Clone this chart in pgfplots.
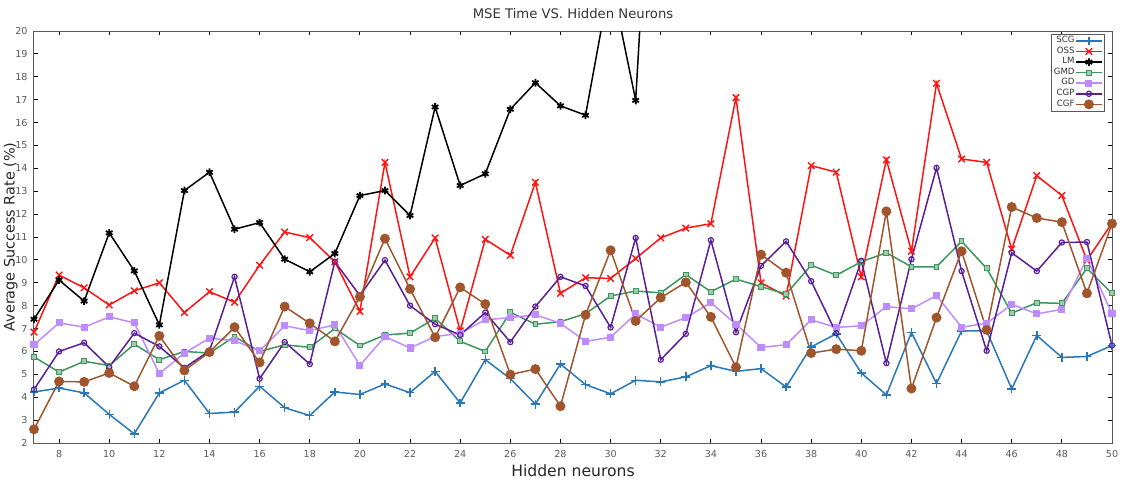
\documentclass[border=0pt]{standalone}
\usepackage{pgfplots}
\pgfplotsset{compat=1.18}
\usepackage{pgfplotstable}
\usepackage{fontspec}
\setmainfont{DejaVu Sans}
\definecolor{cscg}{RGB}{40,120,185}
\definecolor{coss}{RGB}{255,20,20}
\definecolor{clm}{RGB}{0,0,0}
\definecolor{cgmd}{RGB}{60,150,90}
\definecolor{cgd}{RGB}{190,140,255}
\definecolor{ccgp}{RGB}{90,30,150}
\definecolor{ccgf}{RGB}{160,85,45}
\definecolor{axgray}{RGB}{90,90,90}

\pgfplotstableread{
x y
7 4.23
8 4.4
9 4.19
10 3.25
11 2.4
12 4.19
13 4.74
14 3.29
15 3.35
16 4.48
17 3.54
18 3.2
19 4.23
20 4.12
21 4.58
22 4.2
23 5.13
24 3.75
25 5.64
26 4.81
27 3.7
28 5.45
29 4.55
30 4.15
31 4.74
32 4.67
33 4.89
34 5.38
35 5.13
36 5.25
37 4.45
38 6.2
39 6.77
40 5.06
41 4.1
42 6.83
43 4.6
44 6.9
45 6.9
46 4.36
47 6.7
48 5.74
49 5.78
50 6.26
}\scg

\pgfplotstableread{
x y
7 6.84
8 9.34
9 8.78
10 8.03
11 8.65
12 9.0
13 7.7
14 8.61
15 8.15
16 9.77
17 11.22
18 10.97
19 9.92
20 7.75
21 14.26
22 9.26
23 10.96
24 6.9
25 10.9
26 10.2
27 13.39
28 8.54
29 9.22
30 9.19
31 10.06
32 10.96
33 11.39
34 11.58
35 17.09
36 9.0
37 8.42
38 14.12
39 13.83
40 9.26
41 14.38
42 10.38
43 17.71
44 14.41
45 14.26
46 10.47
47 13.68
48 12.81
49 9.99
50 11.61
}\oss

\pgfplotstableread{
x y
7 7.41
8 9.12
9 8.2
10 11.18
11 9.52
12 7.16
13 13.03
14 13.83
15 11.34
16 11.63
17 10.03
18 9.48
19 10.28
20 12.81
21 13.03
22 11.94
23 16.68
24 13.25
25 13.76
26 16.58
27 17.74
28 16.73
29 16.32
30 22.3
31 16.97
32 36
}\lm

\pgfplotstableread{
x y
7 5.76
8 5.1
9 5.57
10 5.38
11 6.32
12 5.64
13 6.0
14 5.93
15 6.65
16 6.0
17 6.29
18 6.18
19 7.0
20 6.26
21 6.72
22 6.8
23 7.45
24 6.44
25 6.0
26 7.71
27 7.19
28 7.3
29 7.65
30 8.42
31 8.64
32 8.56
33 9.36
34 8.61
35 9.16
36 8.83
37 8.51
38 9.77
39 9.33
40 9.92
41 10.31
42 9.7
43 9.7
44 10.81
45 9.63
46 7.67
47 8.13
48 8.1
49 9.63
50 8.54
}\gmd

\pgfplotstableread{
x y
7 6.29
8 7.25
9 7.06
10 7.51
11 7.25
12 5.03
13 5.93
14 6.58
15 6.47
16 6.03
17 7.12
18 6.91
19 7.16
20 5.39
21 6.65
22 6.15
23 6.65
24 6.8
25 7.38
26 7.48
27 7.6
28 7.23
29 6.44
30 6.62
31 7.64
32 7.06
33 7.48
34 8.13
35 7.19
36 6.18
37 6.29
38 7.38
39 7.05
40 7.12
41 7.96
42 7.86
43 8.44
44 7.06
45 7.23
46 8.06
47 7.64
48 7.84
49 10.06
50 7.64
}\gd

\pgfplotstableread{
x y
7 4.34
8 6.0
9 6.38
10 5.32
11 6.8
12 6.22
13 5.28
14 6.03
15 9.26
16 4.81
17 6.41
18 5.45
19 9.92
20 8.44
21 9.99
22 8.0
23 7.19
24 6.72
25 7.7
26 6.41
27 7.96
28 9.26
29 8.86
30 7.05
31 10.96
32 5.64
33 6.77
34 10.86
35 6.84
36 9.74
37 10.81
38 9.07
39 6.8
40 9.96
41 5.49
42 10.03
43 14.02
44 9.51
45 6.03
46 10.31
47 9.51
48 10.76
49 10.78
50 6.26
}\cgp

\pgfplotstableread{
x y
7 2.6
8 4.69
9 4.67
10 5.06
11 4.48
12 6.68
13 5.17
14 5.97
15 7.06
16 5.52
17 7.96
18 7.23
19 6.44
20 8.39
21 10.93
22 8.73
23 6.62
24 8.8
25 8.07
26 4.99
27 5.23
28 3.61
29 7.6
30 10.42
31 7.33
32 8.35
33 9.02
34 7.51
35 5.31
36 10.23
37 9.44
38 5.93
39 6.1
40 6.03
41 12.12
42 4.38
43 7.48
44 10.38
45 6.94
46 12.31
47 11.83
48 11.65
49 8.54
50 11.58
}\cgf

\begin{document}
\begin{tikzpicture}
\begin{axis}[
  scale only axis,
  width=539pt, height=206pt,
  xmin=7, xmax=50, ymin=2, ymax=20,
  xtick={8,10,...,50}, ytick={2,3,...,20},
  tick align=inside,
  major tick length=2pt,
  axis line style={axgray, line width=0.5pt},
  every tick/.style={black, line width=0.5pt},
  tick label style={font=\fontsize{4.8}{5}\selectfont, text=axgray},
  /pgf/number format/assume math mode=true,
  xticklabel style={yshift=-0.3pt},
  yticklabel style={xshift=0.3pt},
  title={MSE Time VS. Hidden Neurons},
  title style={font=\fontsize{6.6}{7}\selectfont, text=black!80, yshift=-3.5pt},
  xlabel={Hidden neurons},
  xlabel style={font=\fontsize{7.8}{8}\selectfont, text=black!85, yshift=3.5pt},
  ylabel={Average Success Rate (\%)},
  ylabel style={font=\fontsize{7.2}{7.5}\selectfont, text=black!85, yshift=-8pt},
  clip=true,
  legend style={at={(0.993,0.993)}, anchor=north east, draw=axgray, fill=white,
    font=\fontsize{4.3}{4.6}\selectfont, text=black!80, inner sep=0.7pt,
    nodes={inner sep=0.3pt}, row sep=0pt, line width=0.4pt},
  legend cell align=right,
  legend plot pos=right,
  legend image code/.code={\draw[mark repeat=2,mark phase=2] plot coordinates {(0pt,0pt) (6.5pt,0pt) (13pt,0pt)};},
  every axis plot/.append style={line width=0.75pt},
]
\addplot[color=cscg, mark=+, mark size=2.2pt, mark options={line width=0.7pt}] table[x=x,y=y] {\scg};
\addlegendentry{SCG}
\addplot[color=coss, mark=x, mark size=2.3pt, mark options={line width=0.7pt}] table[x=x,y=y] {\oss};
\addlegendentry{OSS}
\addplot[color=clm, mark=asterisk, mark size=1.9pt, mark options={line width=0.9pt}] table[x=x,y=y] {\lm};
\addlegendentry{LM}
\addplot[color=cgmd, mark=square*, mark size=1.2pt, mark options={fill=cgmd!50, draw=cgmd, line width=0.5pt}] table[x=x,y=y] {\gmd};
\addlegendentry{GMD}
\addplot[color=cgd, mark=square*, mark size=1.4pt, mark options={fill=cgd}] table[x=x,y=y] {\gd};
\addlegendentry{GD}
\addplot[color=ccgp, mark=o, mark size=1.3pt, mark options={line width=0.6pt}] table[x=x,y=y] {\cgp};
\addlegendentry{CGP}
\addplot[color=ccgf, mark=*, mark size=2.1pt, mark options={fill=ccgf}] table[x=x,y=y] {\cgf};
\addlegendentry{CGF}
\coordinate (bl) at (rel axis cs:0,0);
\coordinate (tr) at (rel axis cs:1,1);
\end{axis}
\pgfresetboundingbox
\path ([shift={(-17pt,-20.5pt)}]bl) rectangle ([shift={(5pt,15.5pt)}]tr);
\end{tikzpicture}
\end{document}
